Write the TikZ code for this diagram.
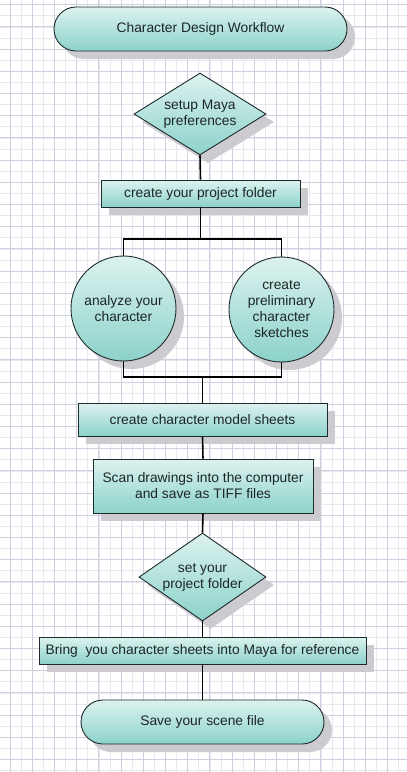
\documentclass[tikz,border=0pt]{standalone}
\usepackage{fontspec}
\setmainfont{Liberation Sans}
\usetikzlibrary{shapes.geometric,shadows}
\definecolor{tealtop}{HTML}{DCF2EF}
\definecolor{tealbot}{HTML}{8CD2CA}
\definecolor{shadowgray}{HTML}{CBCBD0}
\definecolor{edgecol}{HTML}{1E2B2B}
\definecolor{txtcol}{HTML}{1C2626}
\definecolor{majgrid}{HTML}{CFCFE0}
\definecolor{mingrid}{HTML}{E8E8F1}
\tikzset{
  flowshape/.style={draw=edgecol, line width=0.9pt, top color=tealtop, bottom color=tealbot,
    text=txtcol, align=center, font=\fontsize{13.8}{16}\selectfont, inner sep=0pt,
    drop shadow={shadow xshift=8pt, shadow yshift=-8pt, fill=shadowgray, opacity=1}},
  procbox/.style={flowshape, rectangle},
  termbox/.style={flowshape, rectangle, rounded corners=22pt},
  decbox/.style={flowshape, diamond, aspect=1.6},
  circbox/.style={flowshape, circle, minimum size=105pt},
  conn/.style={draw=black, line width=1.6pt},
}
\begin{document}
\begin{tikzpicture}[x=1pt,y=-1pt]
\useasboundingbox (0,0) rectangle (407,772);
\fill[white] (0,0) rectangle (407,772);
% grid
\foreach \i in {0,...,37} {
  \draw[mingrid, line width=0.6pt] ({-1.1+11.1*\i},0) -- ({-1.1+11.1*\i},772);
}
\foreach \i in {0,...,70} {
  \draw[mingrid, line width=0.6pt] (0,{-6.5+11.1*\i}) -- (407,{-6.5+11.1*\i});
}
\foreach \i in {0,...,18} {
  \draw[majgrid, line width=0.9pt] ({10+22.2*\i},0) -- ({10+22.2*\i},772);
}
\foreach \i in {0,...,35} {
  \draw[majgrid, line width=0.9pt] (0,{4.6+22.2*\i}) -- (407,{4.6+22.2*\i});
}
% nodes
\node[termbox, minimum width=293pt, minimum height=44pt] (t1) at (200.5,29) {Character Design Workflow};
\node[decbox, minimum width=132pt, minimum height=82pt] (d1) at (200,114) {setup Maya\\preferences};
\node[procbox, minimum width=199pt, minimum height=27pt] (r1) at (200.5,193.5) {create your project folder};
\node[circbox] (c1) at (123.5,308.5) {analyze your\\character};
\node[circbox] (c2) at (281.5,309.5) {create\\preliminary\\character\\sketches};
\node[procbox, minimum width=249pt, minimum height=33pt] (r2) at (202.5,419.5) {create character model sheets};
\node[procbox, minimum width=220pt, minimum height=54pt] (r3) at (203,486) {Scan drawings into the computer\\and save as TIFF files};
\node[decbox, minimum width=127pt, minimum height=88pt] (d2) at (202.5,577) {set your\\project folder};
\node[procbox, minimum width=327pt, minimum height=27pt] (r4) at (202.5,650.5) {Bring\ \ you character sheets into Maya for reference};
\node[termbox, minimum width=243pt, minimum height=44pt] (t2) at (202.5,722) {Save your scene file};
% connectors
\coordinate (split1) at (200.5,239);
\coordinate (join2) at (202.5,377);
\draw[conn] (d1.south) -- (r1.north);
\draw[conn] (r1.south) -- (split1);
\draw[conn] (c1.north) |- (split1) -| (c2.north);
\draw[conn] (c1.south) |- (join2) -| (c2.south);
\draw[conn] (join2) -- (r2.north);
\draw[conn] (r2.south) -- (r3.north);
\draw[conn] (r3.south) -- (d2.north);
\draw[conn] (d2.south) -- (r4.north);
\draw[conn] (r4.south) -- (t2.north);
\end{tikzpicture}
\end{document}
